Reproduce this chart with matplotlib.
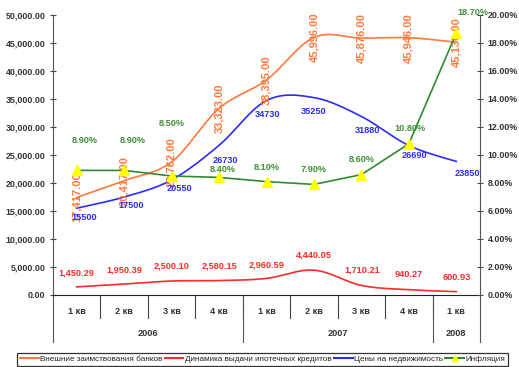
import numpy as np
import matplotlib
matplotlib.use("Agg")
import matplotlib.pyplot as plt
from matplotlib.lines import Line2D
import matplotlib.transforms as mtransforms

# ---- data ----
quarters = ["1 кв", "2 кв", "3 кв", "4 кв", "1 кв", "2 кв", "3 кв", "4 кв", "1 кв"]
years = ["2006", "2007", "2008"]
year_spans = [4, 4, 1]
borrowing = [17417.00, 20417.00, 23762.00, 33323.00, 38395.00, 45996.00, 45876.00, 45946.00, 45130.00]
mortgage = [1450.29, 1950.39, 2500.10, 2580.15, 2960.59, 4440.05, 1710.21, 940.27, 600.93]
realty = [15500, 17500, 20550, 26730, 34730, 35250, 31880, 26690, 23850]
inflation = [8.90, 8.90, 8.50, 8.40, 8.10, 7.90, 8.60, 10.80, 18.70]
series_names = ["Внешние заимствования банков", "Динамика выдачи ипотечных кредитов",
                "Цены на недвижимость", "Инфляция"]

# ---- styles ----
C_OR = "#FF7A3C"
C_RED = "#FF2A2A"
C_BLUE = "#2B2BFF"
C_GREEN = "#2E8B2E"
C_GLBL = "#3F8F3A"
FAM = ["Liberation Sans", "DejaVu Sans"]

green_off = [(8, 30), (9, 30), (0, 53), (4, 8), (0, 14), (0, 15), (0, 15), (1, 15), (17, 21)]
blue_off = [(8, -9), (7, -8), (8, -9), (6, -15), (1, -14), (0, -14), (6, -14), (6, -10), (11, -12)]
red_off = [(0, 14), (0, 14), (0, 15), (0, 15), (0, 13), (0, 15), (1, 15), (0, 15), (0, 14)]


def smooth(xs, ys, n=30):
    xs = np.asarray(xs, float)
    ys = np.asarray(ys, float)
    P = np.column_stack([xs, ys])
    Pe = np.vstack([P[0], P, P[-1]])
    out = []
    for i in range(len(P) - 1):
        p0, p1, p2, p3 = Pe[i], Pe[i + 1], Pe[i + 2], Pe[i + 3]
        c1 = p1 + (p2 - p0) / 6.0
        c2 = p2 - (p3 - p1) / 6.0
        t = np.linspace(0, 1, n)[:, None]
        b = ((1 - t) ** 3) * p1 + 3 * ((1 - t) ** 2) * t * c1 + 3 * (1 - t) * t ** 2 * c2 + t ** 3 * p2
        out.append(b if i == 0 else b[1:])
    out = np.vstack(out)
    return out[:, 0], out[:, 1]


W, H = 519, 367
fig = plt.figure(figsize=(W / 100, H / 100), dpi=100)
fig.patch.set_facecolor("white")
L, R, B, T = 53, 480, 295, 15
ax = fig.add_axes([L / W, (H - B) / H, (R - L) / W, (B - T) / H])
ax2 = ax.twinx()

x = np.arange(len(quarters))
ax.set_xlim(-0.5, len(quarters) - 0.5)
ax.set_ylim(0, 50000)
ax2.set_ylim(0, 20)

# lines
sx, sy = smooth(x, borrowing)
ax.plot(sx, sy, color=C_OR, lw=1.2, zorder=3)
sx, sy = smooth(x, mortgage)
ax.plot(sx, sy, color=C_RED, lw=1.2, zorder=3)
sx, sy = smooth(x, realty)
ax.plot(sx, sy, color=C_BLUE, lw=1.2, zorder=3)
ax2.plot(x, inflation, color=C_GREEN, lw=1.2, marker="^", ms=6.5,
         mfc="#FFFF00", mec="#FFFF00", zorder=4)

LBL = 6.6
# data labels
for i, v in enumerate(borrowing):
    ax.annotate(f"{v:,.2f}", (x[i], v), ha="center", va="center", rotation=90,
                color=C_OR, fontsize=8, fontweight="bold", family=FAM, zorder=5)
for i, v in enumerate(mortgage):
    dx, dy = red_off[i]
    ax.annotate(f"{v:,.2f}", (x[i], v), xytext=(dx, dy), textcoords="offset pixels",
                ha="center", va="center", color=C_RED, fontsize=LBL, fontweight="bold",
                family=FAM, zorder=5)
for i, v in enumerate(realty):
    dx, dy = blue_off[i]
    ax.annotate(f"{v}", (x[i], v), xytext=(dx, dy), textcoords="offset pixels",
                ha="center", va="center", color=C_BLUE, fontsize=LBL, fontweight="bold",
                family=FAM, zorder=5)
for i, v in enumerate(inflation):
    dx, dy = green_off[i]
    ax2.annotate(f"{v:.2f}%", (x[i], v), xytext=(dx, dy), textcoords="offset pixels",
                 ha="center", va="center", color=C_GLBL, fontsize=LBL, fontweight="bold",
                 family=FAM, zorder=5)

# axes styling
for a in (ax, ax2):
    a.spines["top"].set_visible(False)
    a.spines["left"].set_color("#555555")
    a.spines["right"].set_color("#555555")
    a.spines["bottom"].set_color("#222222")
ax.spines["right"].set_visible(False)
ax2.spines["left"].set_visible(False)
ax2.spines["bottom"].set_visible(False)

ax.set_yticks(np.arange(0, 50001, 5000))
ax.set_yticklabels([f"{v:,.2f}" for v in np.arange(0, 50001, 5000)])
ax2.set_yticks(np.arange(0, 20.01, 2))
ax2.set_yticklabels([f"{v:.2f}%" for v in np.arange(0, 20.01, 2)])
for a in (ax, ax2):
    a.tick_params(axis="y", direction="inout", length=5, width=0.8, color="#444444",
                  labelsize=6.4, labelcolor="#333333", pad=3)
    for lab in a.get_yticklabels():
        lab.set_fontweight("bold")
        lab.set_family(FAM)
ax.set_xticks([])

# multi-level category axis
px = 1.0 / (B - T)
tr = mtransforms.blended_transform_factory(ax.transData, ax.transAxes)
for k in range(len(quarters) - 1):
    ax.add_line(Line2D([k + 0.5, k + 0.5], [0, -23 * px], transform=tr, color="#444444",
                       lw=0.8, clip_on=False))
for i, q in enumerate(quarters):
    ax.text(i, -17 * px, q, transform=tr, ha="center", va="center", fontsize=6.6,
            fontweight="bold", family=FAM, color="#333333")
start = 0
bounds = [-0.5]
for yname, span in zip(years, year_spans):
    ax.text(start + span / 2 - 0.5, -39 * px, yname, transform=tr, ha="center", va="center",
            fontsize=6.6, fontweight="bold", family=FAM, color="#333333")
    start += span
    bounds.append(start - 0.5)
for b in bounds:
    ax.add_line(Line2D([b, b], [0, -47 * px], transform=tr, color="#555555", lw=0.8,
                       clip_on=False))

# legend
handles = [Line2D([], [], color=C_OR, lw=1.5),
           Line2D([], [], color=C_RED, lw=1.5),
           Line2D([], [], color=C_BLUE, lw=1.5),
           Line2D([], [], color=C_GREEN, lw=1.5, marker="^", ms=5, mfc="#FFFF00", mec="#FFFF00")]
leg = fig.legend(handles, series_names, loc="lower center", bbox_to_anchor=(262.5 / W, 1.5 / H),
                 ncol=4, frameon=True, fancybox=False, handlelength=2.3, handletextpad=0.15,
                 columnspacing=0.3, borderpad=0.3, borderaxespad=0,
                 prop={"family": FAM, "size": 5.9})
leg.get_frame().set_edgecolor("black")
leg.get_frame().set_linewidth(0.9)
for t in leg.get_texts():
    t.set_color("#222222")

fig.savefig("out.png", dpi=100)
